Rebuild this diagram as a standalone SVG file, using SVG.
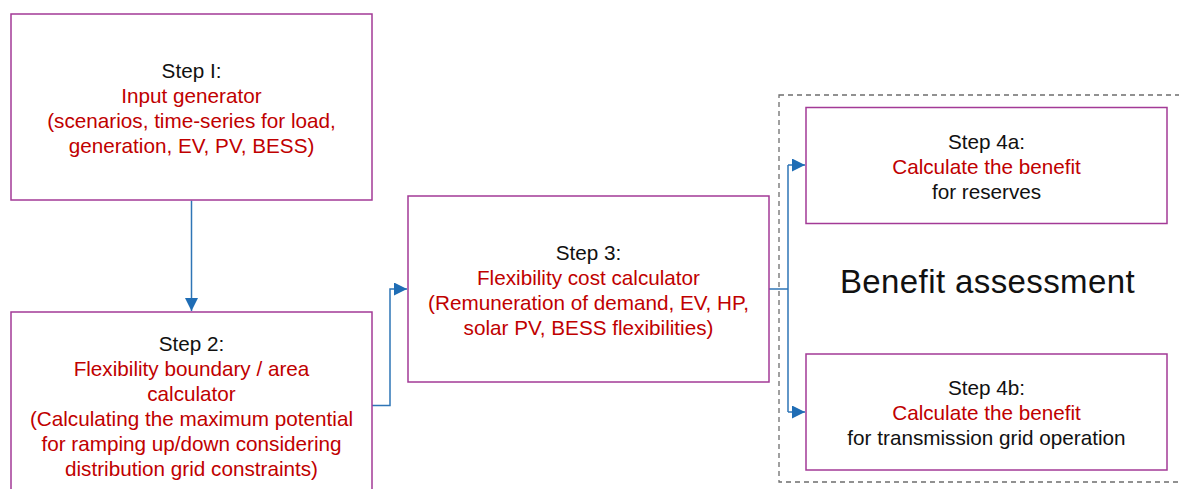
<svg xmlns="http://www.w3.org/2000/svg" width="1179" height="489" viewBox="0 0 1179 489">
<defs>
<style>
.box{fill:#fff;stroke:#A33A96;stroke-width:1.5}
.t{font-family:"Liberation Sans",Arial,sans-serif;font-size:20.7px;text-anchor:middle}
.k{fill:#111}
.r{fill:#C00000}
.c{fill:none;stroke:#2E75B6;stroke-width:1.5}
</style>
<marker id="ah" viewBox="0 0 13 13" refX="13" refY="6.5" markerWidth="13" markerHeight="13" markerUnits="userSpaceOnUse" orient="auto">
<path d="M0,0 L13,6.5 L0,13 Z" fill="#1F6DB5"/>
</marker>
</defs>
<rect width="1179" height="489" fill="#fff"/>
<rect id="group-border" x="779" y="95" width="420" height="387" fill="none" stroke="#6e6e6e" stroke-width="1.3" stroke-dasharray="5,4"/>
<g id="connectors">
<path class="c" d="M191.5,200.5 V311" marker-end="url(#ah)"/>
<path class="c" d="M372,405.5 H390 V289 H407" marker-end="url(#ah)"/>
<path class="c" d="M769,289 H788"/>
<path class="c" d="M788,165 V412"/>
<path class="c" d="M788,165 H805" marker-end="url(#ah)"/>
<path class="c" d="M788,412 H805" marker-end="url(#ah)"/>
</g>
<g id="step1">
<rect class="box" x="11" y="14" width="361" height="186"/>
<text class="t" x="191.5"><tspan class="k" x="191.5" y="78">Step I:</tspan><tspan class="r" x="191.5" y="103">Input generator</tspan><tspan class="r" x="191.5" y="128">(scenarios, time-series for load,</tspan><tspan class="r" x="191.5" y="153">generation, EV, PV, BESS)</tspan></text>
</g>
<g id="step2">
<rect class="box" x="11" y="312" width="361" height="200"/>
<text class="t"><tspan class="k" x="191.5" y="351">Step 2:</tspan><tspan class="r" x="191.5" y="376">Flexibility boundary / area</tspan><tspan class="r" x="191.5" y="401">calculator</tspan><tspan class="r" x="191.5" y="426">(Calculating the maximum potential</tspan><tspan class="r" x="191.5" y="451">for ramping up/down considering</tspan><tspan class="r" x="191.5" y="475.5">distribution grid constraints)</tspan></text>
</g>
<g id="step3">
<rect class="box" x="408" y="196" width="361" height="186"/>
<text class="t"><tspan class="k" x="588.5" y="260">Step 3:</tspan><tspan class="r" x="588.5" y="284.5">Flexibility cost calculator</tspan><tspan class="r" x="588.5" y="309.5">(Remuneration of demand, EV, HP,</tspan><tspan class="r" x="588.5" y="334.5">solar PV, BESS flexibilities)</tspan></text>
</g>
<g id="step4a">
<rect class="box" x="806" y="107.5" width="361" height="116"/>
<text class="t"><tspan class="k" x="986.5" y="148.5">Step 4a:</tspan><tspan class="r" x="986.5" y="173.5">Calculate the benefit</tspan><tspan class="k" x="986.5" y="198.5">for reserves</tspan></text>
</g>
<g id="step4b">
<rect class="box" x="806" y="354" width="361" height="116"/>
<text class="t"><tspan class="k" x="986.5" y="395">Step 4b:</tspan><tspan class="r" x="986.5" y="420">Calculate the benefit</tspan><tspan class="k" x="986.5" y="445">for transmission grid operation</tspan></text>
</g>
<g id="benefit-label">
<text x="987.5" y="293" font-family="'Liberation Sans',Arial,sans-serif" font-size="33" letter-spacing="0.4" text-anchor="middle" fill="#111">Benefit assessment</text>
</g>
</svg>
